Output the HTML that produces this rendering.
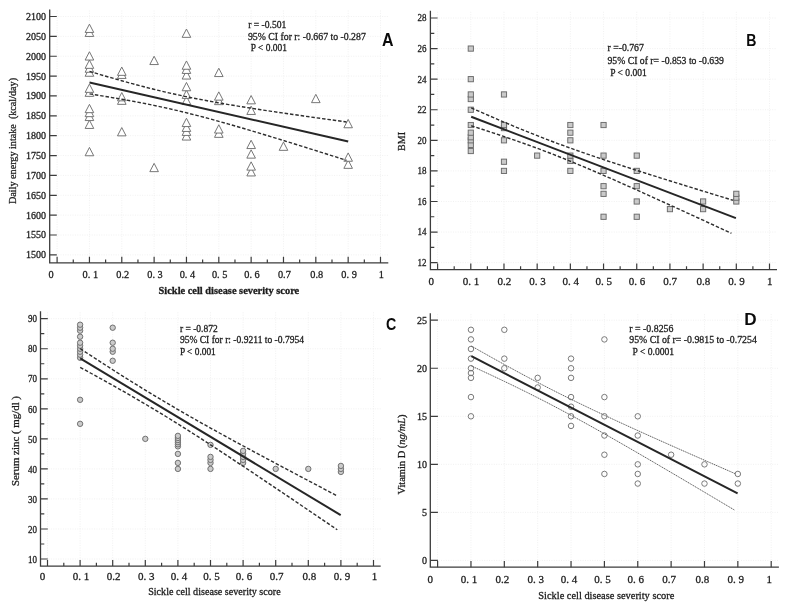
<!DOCTYPE html>
<html><head><meta charset="utf-8"><title>Figure</title>
<style>html,body{margin:0;padding:0;background:#fff;width:788px;height:609px;overflow:hidden}svg{display:block;filter:grayscale(1) blur(0.3px)}</style>
</head><body>
<svg width="788" height="609" viewBox="0 0 788 609">
<style>
text{font-family:"Liberation Serif",serif;fill:#1c1c1c;stroke:#1c1c1c;stroke-width:0.28px}
.tl{font-size:10px}
.st{font-size:10px}
.big{font-family:"Liberation Sans",sans-serif;font-weight:bold;fill:#0a0a0a;stroke:none}
.tri{fill:#fff;stroke:#6f6f6f;stroke-width:0.95}
.sq{fill:#cacaca;stroke:#6a6a6a;stroke-width:0.95}
.cf{fill:#cbcbcb;stroke:#6a6a6a;stroke-width:0.95}
.co{fill:none;stroke:#737373;stroke-width:0.95}
</style>
<rect width="788" height="609" fill="#fff"/>
<path d="M57.1 10.5V261.9M89.44 10.5V261.9M121.78 10.5V261.9M154.12 10.5V261.9M186.46 10.5V261.9M218.8 10.5V261.9M251.14 10.5V261.9M283.48 10.5V261.9M315.82 10.5V261.9M348.16 10.5V261.9M380.5 10.5V261.9M58.1 254.88H388.3M58.1 235.01H388.3M58.1 215.15H388.3M58.1 195.28H388.3M58.1 175.42H388.3M58.1 155.56H388.3M58.1 135.69H388.3M58.1 115.83H388.3M58.1 95.96H388.3M58.1 76.09H388.3M58.1 56.23H388.3M58.1 36.36H388.3M58.1 16.5H388.3" stroke="#ededed" stroke-width="0.8" stroke-dasharray="1 1.4" fill="none"/>
<path d="M49.7 9.5V262.9H388.3" stroke="#3c3c3c" stroke-width="1.3" fill="none"/>
<path d="M57.1 262.9v-6.1M73.27 262.9v-3.4M89.44 262.9v-6.1M105.61 262.9v-3.4M121.78 262.9v-6.1M137.95 262.9v-3.4M154.12 262.9v-6.1M170.29 262.9v-3.4M186.46 262.9v-6.1M202.63 262.9v-3.4M218.8 262.9v-6.1M234.97 262.9v-3.4M251.14 262.9v-6.1M267.31 262.9v-3.4M283.48 262.9v-6.1M299.65 262.9v-3.4M315.82 262.9v-6.1M331.99 262.9v-3.4M348.16 262.9v-6.1M364.33 262.9v-3.4M380.5 262.9v-6.1M49.7 254.88h7.1M49.7 235.01h7.1M49.7 215.15h7.1M49.7 195.28h7.1M49.7 175.42h7.1M49.7 155.56h7.1M49.7 135.69h7.1M49.7 115.83h7.1M49.7 95.96h7.1M49.7 76.09h7.1M49.7 56.23h7.1M49.7 36.36h7.1M49.7 16.5h7.1" stroke="#3c3c3c" stroke-width="1.2" fill="none"/>
<text x="45.9" y="258.28" text-anchor="end" font-size="10">1500</text>
<text x="45.9" y="238.41" text-anchor="end" font-size="10">1550</text>
<text x="45.9" y="218.55" text-anchor="end" font-size="10">1600</text>
<text x="45.9" y="198.69" text-anchor="end" font-size="10">1650</text>
<text x="45.9" y="178.82" text-anchor="end" font-size="10">1700</text>
<text x="45.9" y="158.96" text-anchor="end" font-size="10">1750</text>
<text x="45.9" y="139.09" text-anchor="end" font-size="10">1800</text>
<text x="45.9" y="119.23" text-anchor="end" font-size="10">1850</text>
<text x="45.9" y="99.36" text-anchor="end" font-size="10">1900</text>
<text x="45.9" y="79.5" text-anchor="end" font-size="10">1950</text>
<text x="45.9" y="59.63" text-anchor="end" font-size="10">2000</text>
<text x="45.9" y="39.76" text-anchor="end" font-size="10">2050</text>
<text x="45.9" y="19.9" text-anchor="end" font-size="10">2100</text>
<text x="51.2" y="277.8" text-anchor="middle" font-size="10.3">0</text>
<text x="90.34" y="277.8" text-anchor="middle" font-size="10.3">0.&#160;1</text>
<text x="122.68" y="277.8" text-anchor="middle" font-size="10.3">0.2</text>
<text x="155.02" y="277.8" text-anchor="middle" font-size="10.3">0.&#160;3</text>
<text x="187.36" y="277.8" text-anchor="middle" font-size="10.3">0.&#160;4</text>
<text x="219.7" y="277.8" text-anchor="middle" font-size="10.3">0.&#160;5</text>
<text x="252.04" y="277.8" text-anchor="middle" font-size="10.3">0.&#160;6</text>
<text x="284.38" y="277.8" text-anchor="middle" font-size="10.3">0.7</text>
<text x="316.72" y="277.8" text-anchor="middle" font-size="10.3">0.8</text>
<text x="349.06" y="277.8" text-anchor="middle" font-size="10.3">0.&#160;9</text>
<text x="381.4" y="277.8" text-anchor="middle" font-size="10.3">1</text>
<path d="M251.14 167.65L255.44 175.95H246.84Z" class="tri"/>
<path d="M154.12 163.35L158.42 171.65H149.82Z" class="tri"/>
<path d="M251.14 161.85L255.44 170.15H246.84Z" class="tri"/>
<path d="M348.16 160.05L352.46 168.35H343.86Z" class="tri"/>
<path d="M348.16 152.95L352.46 161.25H343.86Z" class="tri"/>
<path d="M251.14 149.85L255.44 158.15H246.84Z" class="tri"/>
<path d="M89.44 147.45L93.74 155.75H85.14Z" class="tri"/>
<path d="M283.48 142.05L287.78 150.35H279.18Z" class="tri"/>
<path d="M251.14 140.25L255.44 148.55H246.84Z" class="tri"/>
<path d="M186.46 131.75L190.76 140.05H182.16Z" class="tri"/>
<path d="M218.8 129.05L223.1 137.35H214.5Z" class="tri"/>
<path d="M121.78 127.55L126.08 135.85H117.48Z" class="tri"/>
<path d="M186.46 127.15L190.76 135.45H182.16Z" class="tri"/>
<path d="M218.8 124.75L223.1 133.05H214.5Z" class="tri"/>
<path d="M186.46 123.15L190.76 131.45H182.16Z" class="tri"/>
<path d="M89.44 120.15L93.74 128.45H85.14Z" class="tri"/>
<path d="M348.16 119.45L352.46 127.75H343.86Z" class="tri"/>
<path d="M186.46 118.25L190.76 126.55H182.16Z" class="tri"/>
<path d="M89.44 112.25L93.74 120.55H85.14Z" class="tri"/>
<path d="M89.44 108.35L93.74 116.65H85.14Z" class="tri"/>
<path d="M251.14 106.15L255.44 114.45H246.84Z" class="tri"/>
<path d="M89.44 104.35L93.74 112.65H85.14Z" class="tri"/>
<path d="M218.8 96.35L223.1 104.65H214.5Z" class="tri"/>
<path d="M186.46 96.25L190.76 104.55H182.16Z" class="tri"/>
<path d="M121.78 96.05L126.08 104.35H117.48Z" class="tri"/>
<path d="M251.14 95.55L255.44 103.85H246.84Z" class="tri"/>
<path d="M315.82 94.35L320.12 102.65H311.52Z" class="tri"/>
<path d="M121.78 92.55L126.08 100.85H117.48Z" class="tri"/>
<path d="M218.8 91.85L223.1 100.15H214.5Z" class="tri"/>
<path d="M186.46 90.15L190.76 98.45H182.16Z" class="tri"/>
<path d="M89.44 88.05L93.74 96.35H85.14Z" class="tri"/>
<path d="M89.44 84.05L93.74 92.35H85.14Z" class="tri"/>
<path d="M186.46 82.45L190.76 90.75H182.16Z" class="tri"/>
<path d="M186.46 70.75L190.76 79.05H182.16Z" class="tri"/>
<path d="M121.78 70.15L126.08 78.45H117.48Z" class="tri"/>
<path d="M218.8 68.25L223.1 76.55H214.5Z" class="tri"/>
<path d="M89.44 67.95L93.74 76.25H85.14Z" class="tri"/>
<path d="M121.78 67.05L126.08 75.35H117.48Z" class="tri"/>
<path d="M186.46 65.15L190.76 73.45H182.16Z" class="tri"/>
<path d="M89.44 63.95L93.74 72.25H85.14Z" class="tri"/>
<path d="M186.46 60.95L190.76 69.25H182.16Z" class="tri"/>
<path d="M89.44 60.05L93.74 68.35H85.14Z" class="tri"/>
<path d="M154.12 56.25L158.42 64.55H149.82Z" class="tri"/>
<path d="M89.44 51.75L93.74 60.05H85.14Z" class="tri"/>
<path d="M186.46 29.05L190.76 37.35H182.16Z" class="tri"/>
<path d="M89.44 28.15L93.74 36.45H85.14Z" class="tri"/>
<path d="M89.44 24.15L93.74 32.45H85.14Z" class="tri"/>
<polyline points="89.5,71.41 100.21,74.58 110.92,77.69 121.62,80.73 132.33,83.68 143.04,86.53 153.75,89.25 164.46,91.83 175.17,94.28 185.88,96.58 196.58,98.75 207.29,100.79 218,102.72 228.71,104.57 239.42,106.34 250.12,108.05 260.83,109.7 271.54,111.32 282.25,112.9 292.96,114.46 303.67,115.99 314.38,117.51 325.08,119 335.79,120.49 346.5,121.96" stroke="#2e2e2e" stroke-width="1.4" stroke-dasharray="3.5 1.9" fill="none"/>
<polyline points="89.5,93.88 100.21,95.59 110.92,97.36 121.62,99.21 132.33,101.14 143.04,103.18 153.75,105.33 164.46,107.62 175.17,110.06 185.88,112.63 196.58,115.34 207.29,118.16 218,121.1 228.71,124.12 239.42,127.22 250.12,130.39 260.83,133.6 271.54,136.85 282.25,140.14 292.96,143.46 303.67,146.79 314.38,150.15 325.08,153.53 335.79,156.92 346.5,160.32" stroke="#2e2e2e" stroke-width="1.4" stroke-dasharray="3.5 1.9" fill="none"/>
<path d="M89.5 82.6L348.2 141.5" stroke="#262626" stroke-width="2.0" fill="none"/>
<path d="M437.6 11.8V268.7M470.79 11.8V268.7M503.98 11.8V268.7M537.17 11.8V268.7M570.36 11.8V268.7M603.55 11.8V268.7M636.74 11.8V268.7M669.93 11.8V268.7M703.12 11.8V268.7M736.31 11.8V268.7M769.5 11.8V268.7M438.6 262.64H777M438.6 232.06H777M438.6 201.48H777M438.6 170.9H777M438.6 140.32H777M438.6 109.74H777M438.6 79.16H777M438.6 48.58H777M438.6 18H777" stroke="#ededed" stroke-width="0.8" stroke-dasharray="1 1.4" fill="none"/>
<path d="M430.4 10.8V269.7H777" stroke="#3c3c3c" stroke-width="1.3" fill="none"/>
<path d="M437.6 269.7v-6.1M454.2 269.7v-3.4M470.79 269.7v-6.1M487.39 269.7v-3.4M503.98 269.7v-6.1M520.58 269.7v-3.4M537.17 269.7v-6.1M553.76 269.7v-3.4M570.36 269.7v-6.1M586.96 269.7v-3.4M603.55 269.7v-6.1M620.14 269.7v-3.4M636.74 269.7v-6.1M653.34 269.7v-3.4M669.93 269.7v-6.1M686.52 269.7v-3.4M703.12 269.7v-6.1M719.72 269.7v-3.4M736.31 269.7v-6.1M752.9 269.7v-3.4M769.5 269.7v-6.1M430.4 262.64h7.2M430.4 247.35h3.9M430.4 232.06h7.2M430.4 216.77h3.9M430.4 201.48h7.2M430.4 186.19h3.9M430.4 170.9h7.2M430.4 155.61h3.9M430.4 140.32h7.2M430.4 125.03h3.9M430.4 109.74h7.2M430.4 94.45h3.9M430.4 79.16h7.2M430.4 63.87h3.9M430.4 48.58h7.2M430.4 33.29h3.9M430.4 18h7.2" stroke="#3c3c3c" stroke-width="1.2" fill="none"/>
<text x="426.6" y="266.04" text-anchor="end" font-size="10" textLength="9" lengthAdjust="spacingAndGlyphs">12</text>
<text x="426.6" y="235.46" text-anchor="end" font-size="10" textLength="9" lengthAdjust="spacingAndGlyphs">14</text>
<text x="426.6" y="204.88" text-anchor="end" font-size="10" textLength="9" lengthAdjust="spacingAndGlyphs">16</text>
<text x="426.6" y="174.3" text-anchor="end" font-size="10" textLength="9" lengthAdjust="spacingAndGlyphs">18</text>
<text x="426.6" y="143.72" text-anchor="end" font-size="10" textLength="9" lengthAdjust="spacingAndGlyphs">20</text>
<text x="426.6" y="113.14" text-anchor="end" font-size="10" textLength="9" lengthAdjust="spacingAndGlyphs">22</text>
<text x="426.6" y="82.56" text-anchor="end" font-size="10" textLength="9" lengthAdjust="spacingAndGlyphs">24</text>
<text x="426.6" y="51.98" text-anchor="end" font-size="10" textLength="9" lengthAdjust="spacingAndGlyphs">26</text>
<text x="426.6" y="21.4" text-anchor="end" font-size="10" textLength="9" lengthAdjust="spacingAndGlyphs">28</text>
<text x="431.2" y="284.6" text-anchor="middle" font-size="11">0</text>
<text x="471.09" y="284.6" text-anchor="middle" font-size="11">0.&#160;1</text>
<text x="504.28" y="284.6" text-anchor="middle" font-size="11">0.2</text>
<text x="537.47" y="284.6" text-anchor="middle" font-size="11">0.&#160;3</text>
<text x="570.66" y="284.6" text-anchor="middle" font-size="11">0.&#160;4</text>
<text x="603.85" y="284.6" text-anchor="middle" font-size="11">0.&#160;5</text>
<text x="637.04" y="284.6" text-anchor="middle" font-size="11">0.&#160;6</text>
<text x="670.23" y="284.6" text-anchor="middle" font-size="11">0.7</text>
<text x="703.42" y="284.6" text-anchor="middle" font-size="11">0.8</text>
<text x="736.61" y="284.6" text-anchor="middle" font-size="11">0.&#160;9</text>
<text x="769.8" y="284.6" text-anchor="middle" font-size="11">1</text>
<rect x="600.95" y="214.17" width="5.2" height="5.2" class="sq"/>
<rect x="634.14" y="214.17" width="5.2" height="5.2" class="sq"/>
<rect x="667.33" y="206.53" width="5.2" height="5.2" class="sq"/>
<rect x="700.52" y="206.53" width="5.2" height="5.2" class="sq"/>
<rect x="634.14" y="198.88" width="5.2" height="5.2" class="sq"/>
<rect x="700.52" y="198.88" width="5.2" height="5.2" class="sq"/>
<rect x="733.71" y="198.88" width="5.2" height="5.2" class="sq"/>
<rect x="733.71" y="195.06" width="5.2" height="5.2" class="sq"/>
<rect x="600.95" y="191.23" width="5.2" height="5.2" class="sq"/>
<rect x="733.71" y="191.23" width="5.2" height="5.2" class="sq"/>
<rect x="600.95" y="183.59" width="5.2" height="5.2" class="sq"/>
<rect x="634.14" y="183.59" width="5.2" height="5.2" class="sq"/>
<rect x="501.38" y="168.3" width="5.2" height="5.2" class="sq"/>
<rect x="567.76" y="168.3" width="5.2" height="5.2" class="sq"/>
<rect x="600.95" y="168.3" width="5.2" height="5.2" class="sq"/>
<rect x="634.14" y="168.3" width="5.2" height="5.2" class="sq"/>
<rect x="501.38" y="159.13" width="5.2" height="5.2" class="sq"/>
<rect x="567.76" y="158.36" width="5.2" height="5.2" class="sq"/>
<rect x="534.57" y="153.01" width="5.2" height="5.2" class="sq"/>
<rect x="567.76" y="153.01" width="5.2" height="5.2" class="sq"/>
<rect x="600.95" y="153.01" width="5.2" height="5.2" class="sq"/>
<rect x="634.14" y="153.01" width="5.2" height="5.2" class="sq"/>
<rect x="468.19" y="148.42" width="5.2" height="5.2" class="sq"/>
<rect x="468.19" y="142.31" width="5.2" height="5.2" class="sq"/>
<rect x="468.19" y="137.72" width="5.2" height="5.2" class="sq"/>
<rect x="501.38" y="137.72" width="5.2" height="5.2" class="sq"/>
<rect x="567.76" y="137.72" width="5.2" height="5.2" class="sq"/>
<rect x="468.19" y="134.66" width="5.2" height="5.2" class="sq"/>
<rect x="468.19" y="130.08" width="5.2" height="5.2" class="sq"/>
<rect x="567.76" y="130.08" width="5.2" height="5.2" class="sq"/>
<rect x="501.38" y="125.49" width="5.2" height="5.2" class="sq"/>
<rect x="468.19" y="122.43" width="5.2" height="5.2" class="sq"/>
<rect x="501.38" y="122.43" width="5.2" height="5.2" class="sq"/>
<rect x="567.76" y="122.43" width="5.2" height="5.2" class="sq"/>
<rect x="600.95" y="122.43" width="5.2" height="5.2" class="sq"/>
<rect x="468.19" y="107.14" width="5.2" height="5.2" class="sq"/>
<rect x="468.19" y="96.44" width="5.2" height="5.2" class="sq"/>
<rect x="468.19" y="91.85" width="5.2" height="5.2" class="sq"/>
<rect x="501.38" y="91.85" width="5.2" height="5.2" class="sq"/>
<rect x="468.19" y="76.56" width="5.2" height="5.2" class="sq"/>
<rect x="468.19" y="45.98" width="5.2" height="5.2" class="sq"/>
<polyline points="471.2,107.87 482.1,112.66 493.01,117.39 503.91,122.05 514.82,126.62 525.72,131.1 536.62,135.45 547.53,139.69 558.43,143.79 569.34,147.77 580.24,151.63 591.15,155.4 602.05,159.08 612.95,162.69 623.86,166.24 634.76,169.75 645.67,173.22 656.57,176.67 667.47,180.08 678.38,183.48 689.28,186.87 700.19,190.23 711.09,193.59 722,196.94 732.9,200.28" stroke="#2e2e2e" stroke-width="1.4" stroke-dasharray="3.5 1.9" fill="none"/>
<polyline points="471.2,125.74 482.04,129.24 492.88,132.8 503.72,136.44 514.57,140.16 525.41,143.98 536.25,147.93 547.09,152.01 557.93,156.23 568.77,160.58 579.62,165.05 590.46,169.63 601.3,174.29 612.14,179.03 622.98,183.82 633.83,188.66 644.67,193.53 655.51,198.44 666.35,203.37 677.19,208.32 688.03,213.28 698.88,218.26 709.72,223.24 720.56,228.24 731.4,233.25" stroke="#2e2e2e" stroke-width="1.4" stroke-dasharray="3.5 1.9" fill="none"/>
<path d="M471.2 116.8L735.9 218.1" stroke="#262626" stroke-width="2.0" fill="none"/>
<path d="M47.5 312.3V565.1M80.1 312.3V565.1M112.7 312.3V565.1M145.3 312.3V565.1M177.9 312.3V565.1M210.5 312.3V565.1M243.1 312.3V565.1M275.7 312.3V565.1M308.3 312.3V565.1M340.9 312.3V565.1M373.5 312.3V565.1M48.5 559.02H380.7M48.5 528.98H380.7M48.5 498.94H380.7M48.5 468.9H380.7M48.5 438.86H380.7M48.5 408.82H380.7M48.5 378.78H380.7M48.5 348.74H380.7M48.5 318.7H380.7" stroke="#ededed" stroke-width="0.8" stroke-dasharray="1 1.4" fill="none"/>
<path d="M40.5 311.3V566.1H380.7" stroke="#3c3c3c" stroke-width="1.3" fill="none"/>
<path d="M47.5 566.1v-6.1M63.8 566.1v-3.4M80.1 566.1v-6.1M96.4 566.1v-3.4M112.7 566.1v-6.1M129 566.1v-3.4M145.3 566.1v-6.1M161.6 566.1v-3.4M177.9 566.1v-6.1M194.2 566.1v-3.4M210.5 566.1v-6.1M226.8 566.1v-3.4M243.1 566.1v-6.1M259.4 566.1v-3.4M275.7 566.1v-6.1M292 566.1v-3.4M308.3 566.1v-6.1M324.6 566.1v-3.4M340.9 566.1v-6.1M357.2 566.1v-3.4M373.5 566.1v-6.1M40.5 559.02h7.3M40.5 544h3.8M40.5 528.98h7.3M40.5 513.96h3.8M40.5 498.94h7.3M40.5 483.92h3.8M40.5 468.9h7.3M40.5 453.88h3.8M40.5 438.86h7.3M40.5 423.84h3.8M40.5 408.82h7.3M40.5 393.8h3.8M40.5 378.78h7.3M40.5 363.76h3.8M40.5 348.74h7.3M40.5 333.72h3.8M40.5 318.7h7.3" stroke="#3c3c3c" stroke-width="1.2" fill="none"/>
<text x="36.9" y="562.72" text-anchor="end" font-size="10" textLength="9" lengthAdjust="spacingAndGlyphs">10</text>
<text x="36.9" y="532.68" text-anchor="end" font-size="10" textLength="9" lengthAdjust="spacingAndGlyphs">20</text>
<text x="36.9" y="502.64" text-anchor="end" font-size="10" textLength="9" lengthAdjust="spacingAndGlyphs">30</text>
<text x="36.9" y="472.6" text-anchor="end" font-size="10" textLength="9" lengthAdjust="spacingAndGlyphs">40</text>
<text x="36.9" y="442.56" text-anchor="end" font-size="10" textLength="9" lengthAdjust="spacingAndGlyphs">50</text>
<text x="36.9" y="412.52" text-anchor="end" font-size="10" textLength="9" lengthAdjust="spacingAndGlyphs">60</text>
<text x="36.9" y="382.48" text-anchor="end" font-size="10" textLength="9" lengthAdjust="spacingAndGlyphs">70</text>
<text x="36.9" y="352.44" text-anchor="end" font-size="10" textLength="9" lengthAdjust="spacingAndGlyphs">80</text>
<text x="36.9" y="322.4" text-anchor="end" font-size="10" textLength="9" lengthAdjust="spacingAndGlyphs">90</text>
<text x="42.6" y="580.1" text-anchor="middle" font-size="11">0</text>
<text x="81.1" y="580.1" text-anchor="middle" font-size="11">0.&#160;1</text>
<text x="113.7" y="580.1" text-anchor="middle" font-size="11">0.2</text>
<text x="146.3" y="580.1" text-anchor="middle" font-size="11">0.&#160;3</text>
<text x="178.9" y="580.1" text-anchor="middle" font-size="11">0.&#160;4</text>
<text x="211.5" y="580.1" text-anchor="middle" font-size="11">0.&#160;5</text>
<text x="244.1" y="580.1" text-anchor="middle" font-size="11">0.&#160;6</text>
<text x="276.7" y="580.1" text-anchor="middle" font-size="11">0.7</text>
<text x="309.3" y="580.1" text-anchor="middle" font-size="11">0.8</text>
<text x="341.9" y="580.1" text-anchor="middle" font-size="11">0.&#160;9</text>
<text x="374.5" y="580.1" text-anchor="middle" font-size="11">1</text>
<circle cx="340.9" cy="471.9" r="2.7" class="cf"/>
<circle cx="177.9" cy="468.9" r="2.7" class="cf"/>
<circle cx="210.5" cy="468.9" r="2.7" class="cf"/>
<circle cx="275.7" cy="468.9" r="2.7" class="cf"/>
<circle cx="308.3" cy="468.9" r="2.7" class="cf"/>
<circle cx="340.9" cy="468.9" r="2.7" class="cf"/>
<circle cx="340.9" cy="465.9" r="2.7" class="cf"/>
<circle cx="177.9" cy="462.89" r="2.7" class="cf"/>
<circle cx="210.5" cy="462.89" r="2.7" class="cf"/>
<circle cx="243.1" cy="462.89" r="2.7" class="cf"/>
<circle cx="210.5" cy="459.89" r="2.7" class="cf"/>
<circle cx="243.1" cy="459.89" r="2.7" class="cf"/>
<circle cx="210.5" cy="456.88" r="2.7" class="cf"/>
<circle cx="243.1" cy="456.88" r="2.7" class="cf"/>
<circle cx="177.9" cy="453.88" r="2.7" class="cf"/>
<circle cx="243.1" cy="453.88" r="2.7" class="cf"/>
<circle cx="243.1" cy="450.88" r="2.7" class="cf"/>
<circle cx="177.9" cy="446.37" r="2.7" class="cf"/>
<circle cx="210.5" cy="444.87" r="2.7" class="cf"/>
<circle cx="177.9" cy="444.27" r="2.7" class="cf"/>
<circle cx="177.9" cy="442.16" r="2.7" class="cf"/>
<circle cx="177.9" cy="440.06" r="2.7" class="cf"/>
<circle cx="145.3" cy="438.86" r="2.7" class="cf"/>
<circle cx="177.9" cy="437.96" r="2.7" class="cf"/>
<circle cx="177.9" cy="435.86" r="2.7" class="cf"/>
<circle cx="80.1" cy="423.84" r="2.7" class="cf"/>
<circle cx="80.1" cy="399.81" r="2.7" class="cf"/>
<circle cx="112.7" cy="360.76" r="2.7" class="cf"/>
<circle cx="80.1" cy="357.75" r="2.7" class="cf"/>
<circle cx="80.1" cy="354.75" r="2.7" class="cf"/>
<circle cx="80.1" cy="351.74" r="2.7" class="cf"/>
<circle cx="112.7" cy="351.74" r="2.7" class="cf"/>
<circle cx="80.1" cy="348.74" r="2.7" class="cf"/>
<circle cx="112.7" cy="348.74" r="2.7" class="cf"/>
<circle cx="80.1" cy="345.74" r="2.7" class="cf"/>
<circle cx="80.1" cy="342.73" r="2.7" class="cf"/>
<circle cx="112.7" cy="342.73" r="2.7" class="cf"/>
<circle cx="80.1" cy="336.72" r="2.7" class="cf"/>
<circle cx="80.1" cy="330.72" r="2.7" class="cf"/>
<circle cx="80.1" cy="327.71" r="2.7" class="cf"/>
<circle cx="112.7" cy="327.71" r="2.7" class="cf"/>
<circle cx="80.1" cy="324.71" r="2.7" class="cf"/>
<polyline points="80.2,348.61 90.91,355.63 101.62,362.59 112.34,369.48 123.05,376.29 133.76,383.01 144.48,389.63 155.19,396.13 165.9,402.52 176.61,408.8 187.32,414.98 198.04,421.06 208.75,427.06 219.46,432.99 230.18,438.87 240.89,444.69 251.6,450.48 262.31,456.23 273.03,461.95 283.74,467.65 294.45,473.33 305.16,479 315.88,484.65 326.59,490.29 337.3,495.92" stroke="#2e2e2e" stroke-width="1.4" stroke-dasharray="3.5 1.9" fill="none"/>
<polyline points="80.2,367.39 90.91,373.24 101.62,379.14 112.34,385.11 123.05,391.16 133.76,397.31 144.48,403.58 155.19,409.96 165.9,416.48 176.61,423.11 187.32,429.85 198.04,436.7 208.75,443.63 219.46,450.62 230.18,457.68 240.89,464.78 251.6,471.92 262.31,479.09 273.03,486.28 283.74,493.5 294.45,500.73 305.16,507.98 315.88,515.24 326.59,522.51 337.3,529.79" stroke="#2e2e2e" stroke-width="1.4" stroke-dasharray="3.5 1.9" fill="none"/>
<path d="M80.2 358.3L340.7 515.1" stroke="#262626" stroke-width="2.0" fill="none"/>
<path d="M437.6 314.2V566.2M470.96 314.2V566.2M504.32 314.2V566.2M537.68 314.2V566.2M571.04 314.2V566.2M604.4 314.2V566.2M637.76 314.2V566.2M671.12 314.2V566.2M704.48 314.2V566.2M737.84 314.2V566.2M771.2 314.2V566.2M438.6 560.45H778.9M438.6 512.4H778.9M438.6 464.35H778.9M438.6 416.3H778.9M438.6 368.25H778.9M438.6 320.2H778.9" stroke="#ededed" stroke-width="0.8" stroke-dasharray="1 1.4" fill="none"/>
<path d="M430.3 313.2V567.2H778.9" stroke="#3c3c3c" stroke-width="1.3" fill="none"/>
<path d="M437.6 567.2v-6.1M470.96 567.2v-6.1M504.32 567.2v-6.1M537.68 567.2v-6.1M571.04 567.2v-6.1M604.4 567.2v-6.1M637.76 567.2v-6.1M671.12 567.2v-6.1M704.48 567.2v-6.1M737.84 567.2v-6.1M771.2 567.2v-6.1M430.3 560.45h7.6M430.3 512.4h7.6M430.3 464.35h7.6M430.3 416.3h7.6M430.3 368.25h7.6M430.3 320.2h7.6" stroke="#3c3c3c" stroke-width="1.2" fill="none"/>
<text x="427" y="563.85" text-anchor="end" font-size="10">0</text>
<text x="427" y="515.8" text-anchor="end" font-size="10">5</text>
<text x="427" y="467.75" text-anchor="end" font-size="10">10</text>
<text x="427" y="419.7" text-anchor="end" font-size="10">15</text>
<text x="427" y="371.65" text-anchor="end" font-size="10">20</text>
<text x="427" y="323.6" text-anchor="end" font-size="10">25</text>
<text x="430.2" y="582.8" text-anchor="middle" font-size="11">0</text>
<text x="468.96" y="582.8" text-anchor="middle" font-size="11">0.&#160;1</text>
<text x="502.32" y="582.8" text-anchor="middle" font-size="11">0.2</text>
<text x="535.68" y="582.8" text-anchor="middle" font-size="11">0.&#160;3</text>
<text x="569.04" y="582.8" text-anchor="middle" font-size="11">0.&#160;4</text>
<text x="602.4" y="582.8" text-anchor="middle" font-size="11">0.&#160;5</text>
<text x="635.76" y="582.8" text-anchor="middle" font-size="11">0.&#160;6</text>
<text x="669.12" y="582.8" text-anchor="middle" font-size="11">0.7</text>
<text x="702.48" y="582.8" text-anchor="middle" font-size="11">0.8</text>
<text x="735.84" y="582.8" text-anchor="middle" font-size="11">0.&#160;9</text>
<text x="769.2" y="582.8" text-anchor="middle" font-size="11">1</text>
<circle cx="637.76" cy="483.57" r="2.75" class="co"/>
<circle cx="704.48" cy="483.57" r="2.75" class="co"/>
<circle cx="737.84" cy="483.57" r="2.75" class="co"/>
<circle cx="604.4" cy="473.96" r="2.75" class="co"/>
<circle cx="637.76" cy="473.96" r="2.75" class="co"/>
<circle cx="737.84" cy="473.96" r="2.75" class="co"/>
<circle cx="637.76" cy="464.35" r="2.75" class="co"/>
<circle cx="704.48" cy="464.35" r="2.75" class="co"/>
<circle cx="604.4" cy="454.74" r="2.75" class="co"/>
<circle cx="671.12" cy="454.74" r="2.75" class="co"/>
<circle cx="604.4" cy="435.52" r="2.75" class="co"/>
<circle cx="637.76" cy="435.52" r="2.75" class="co"/>
<circle cx="571.04" cy="425.91" r="2.75" class="co"/>
<circle cx="470.96" cy="416.3" r="2.75" class="co"/>
<circle cx="571.04" cy="416.3" r="2.75" class="co"/>
<circle cx="604.4" cy="416.3" r="2.75" class="co"/>
<circle cx="637.76" cy="416.3" r="2.75" class="co"/>
<circle cx="571.04" cy="406.69" r="2.75" class="co"/>
<circle cx="470.96" cy="397.08" r="2.75" class="co"/>
<circle cx="571.04" cy="397.08" r="2.75" class="co"/>
<circle cx="604.4" cy="397.08" r="2.75" class="co"/>
<circle cx="537.68" cy="387.47" r="2.75" class="co"/>
<circle cx="470.96" cy="377.86" r="2.75" class="co"/>
<circle cx="537.68" cy="377.86" r="2.75" class="co"/>
<circle cx="571.04" cy="377.86" r="2.75" class="co"/>
<circle cx="470.96" cy="373.06" r="2.75" class="co"/>
<circle cx="470.96" cy="368.25" r="2.75" class="co"/>
<circle cx="504.32" cy="368.25" r="2.75" class="co"/>
<circle cx="571.04" cy="368.25" r="2.75" class="co"/>
<circle cx="470.96" cy="358.64" r="2.75" class="co"/>
<circle cx="504.32" cy="358.64" r="2.75" class="co"/>
<circle cx="571.04" cy="358.64" r="2.75" class="co"/>
<circle cx="470.96" cy="349.03" r="2.75" class="co"/>
<circle cx="470.96" cy="339.42" r="2.75" class="co"/>
<circle cx="604.4" cy="339.42" r="2.75" class="co"/>
<circle cx="470.96" cy="329.81" r="2.75" class="co"/>
<circle cx="504.32" cy="329.81" r="2.75" class="co"/>
<polyline points="471.4,346.02 482.39,352.26 493.38,358.44 504.38,364.53 515.37,370.54 526.36,376.45 537.35,382.24 548.34,387.92 559.33,393.49 570.33,398.94 581.32,404.29 592.31,409.55 603.3,414.73 614.29,419.83 625.28,424.88 636.27,429.89 647.27,434.85 658.26,439.77 669.25,444.67 680.24,449.55 691.23,454.4 702.23,459.24 713.22,464.07 724.21,468.88 735.2,473.68" stroke="#555" stroke-width="0.95" stroke-dasharray="1.3 0.7" fill="none"/>
<polyline points="471.4,365.97 482.37,371.02 493.34,376.14 504.31,381.34 515.28,386.63 526.25,392.02 537.23,397.54 548.2,403.17 559.17,408.93 570.14,414.81 581.11,420.8 592.08,426.89 603.05,433.05 614.02,439.29 624.99,445.59 635.96,451.93 646.93,458.31 657.9,464.73 668.88,471.17 679.85,477.63 690.82,484.11 701.79,490.61 712.76,497.12 723.73,503.64 734.7,510.17" stroke="#555" stroke-width="0.95" stroke-dasharray="1.3 0.7" fill="none"/>
<path d="M471.4 356.2L737.6 493.4" stroke="#262626" stroke-width="2.0" fill="none"/>
<text x="248.2" y="28" font-size="9.8" textLength="38.2" lengthAdjust="spacingAndGlyphs">r = -0.501</text>
<text x="247.9" y="39.9" font-size="9.8" textLength="117.9" lengthAdjust="spacingAndGlyphs">95% CI for r: -0.667 to -0.287</text>
<text x="250.8" y="51.1" font-size="9.8" textLength="36.1" lengthAdjust="spacingAndGlyphs">P &lt; 0.001</text>
<text x="158.6" y="293.8" class="tl" textLength="140.6" lengthAdjust="spacingAndGlyphs" font-weight="bold">Sickle cell disease severity score</text>
<text transform="translate(15.6 141) rotate(-90)" text-anchor="middle" class="tl" textLength="126" lengthAdjust="spacingAndGlyphs">Daily energy intake&#160; (kcal/day)</text>
<text x="607.5" y="51.3" font-size="9.6" textLength="36.3" lengthAdjust="spacingAndGlyphs">r =-0.767</text>
<text x="607.5" y="63.9" font-size="9.6" textLength="116.4" lengthAdjust="spacingAndGlyphs">95% CI of r= -0.853 to -0.639</text>
<text x="610.3" y="75.8" font-size="9.6" textLength="36.5" lengthAdjust="spacingAndGlyphs">P &lt; 0.001</text>
<text transform="translate(405.1 141.5) rotate(-90)" text-anchor="middle" class="tl" textLength="19" lengthAdjust="spacingAndGlyphs">BMI</text>
<text x="179.9" y="331.8" font-size="9.6" textLength="37.8" lengthAdjust="spacingAndGlyphs">r = -0.872</text>
<text x="179.9" y="343.4" font-size="9.6" textLength="124.1" lengthAdjust="spacingAndGlyphs">95% CI for r: -0.9211 to -0.7954</text>
<text x="179.9" y="355.4" font-size="9.6" textLength="35.9" lengthAdjust="spacingAndGlyphs">P &lt; 0.001</text>
<text x="148.2" y="594.6" class="tl" textLength="132.5" lengthAdjust="spacingAndGlyphs">Sickle cell disease severity score</text>
<text transform="translate(18.9 441) rotate(-90)" text-anchor="middle" class="tl" textLength="90" lengthAdjust="spacingAndGlyphs">Serum zinc ( mg/dl )</text>
<text x="629.3" y="331.8" font-size="9.8" textLength="44.1" lengthAdjust="spacingAndGlyphs">r = -0.8256</text>
<text x="629.3" y="343.4" font-size="9.8" textLength="127.5" lengthAdjust="spacingAndGlyphs">95% CI of r= -0.9815 to -0.7254</text>
<text x="632.5" y="354.8" font-size="9.8" textLength="41.6" lengthAdjust="spacingAndGlyphs">P &lt; 0.0001</text>
<text x="538.3" y="598.9" class="tl" textLength="136" lengthAdjust="spacingAndGlyphs">Sickle cell disease severity score</text>
<text transform="translate(404.6 454.5) rotate(-90)" text-anchor="middle" class="tl" font-size="9.5" textLength="80" lengthAdjust="spacingAndGlyphs">Vitamin D (<tspan font-style="italic">ng/mL</tspan>)</text>
<text transform="translate(382 46.2) scale(0.914 1)" class="big" font-size="17.44">A</text>
<text transform="translate(746.16 46.2) scale(0.815 1)" class="big" font-size="17.30">B</text>
<text transform="translate(385.92 330.13) scale(0.839 1)" class="big" font-size="16.95">C</text>
<text transform="translate(744.35 325) scale(1.007 1)" class="big" font-size="17.01">D</text>
</svg>
</body></html>
